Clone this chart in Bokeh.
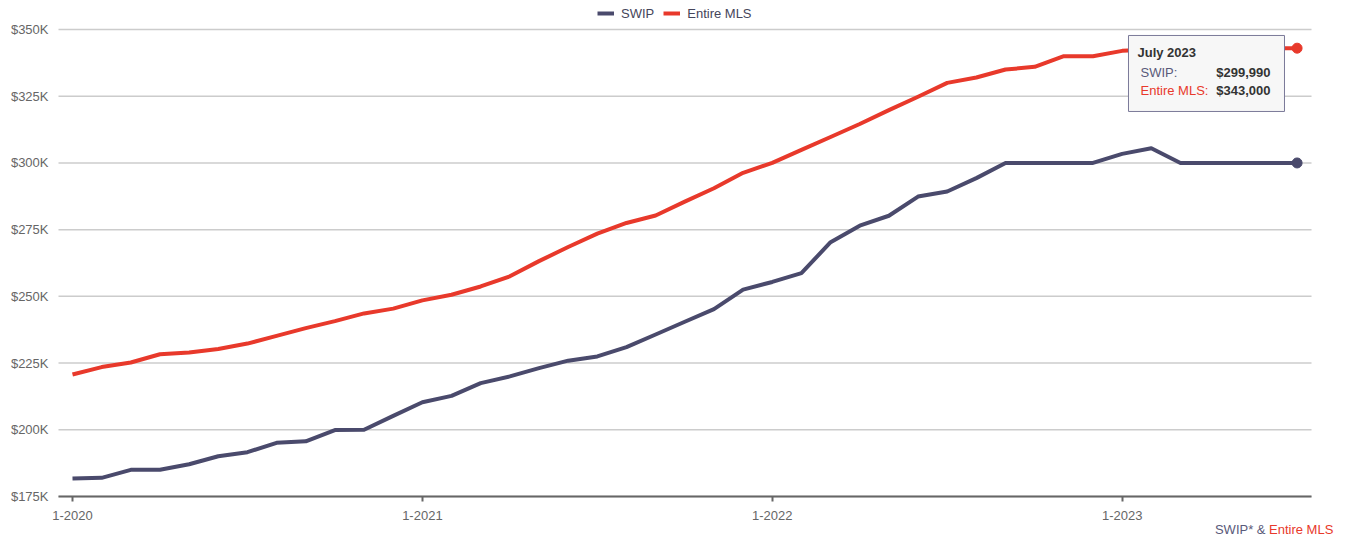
from bokeh.plotting import figure
from bokeh.models import (Range1d, FixedTicker, Legend, LegendItem, Label,
                          BoxAnnotation)
from bokeh.embed import file_html
from bokeh.resources import INLINE

# ---------------- data ----------------
months = [f"{y}-{m:02d}" for y in (2020, 2021, 2022, 2023) for m in range(1, 13)][:43]
swip = [181700, 182000, 185000, 185000, 187100, 190100, 191600, 195100, 195700,
        199900, 200000, 205200, 210300, 212700, 217500, 220000, 223100, 225900,
        227500, 231000, 235700, 240500, 245200, 252500, 255400, 258700, 270300,
        276500, 280200, 287400, 289300, 294300, 300000, 300000, 300000, 300000,
        303400, 305500, 300000, 300000, 300000, 300000, 299990]
mls = [220700, 223500, 225200, 228300, 229000, 230300, 232300, 235200, 238100,
       240700, 243600, 245400, 248500, 250600, 253700, 257500, 263200, 268500,
       273500, 277500, 280300, 285500, 290500, 296300, 300000, 304900, 309700,
       314600, 319800, 324800, 330000, 332000, 335000, 336000, 340000, 340000,
       342000, 342500, 343000, 342500, 343000, 343000, 343000]
x_tick_pos = [0, 12, 24, 36]
x_tick_labels = ["1-2020", "1-2021", "1-2022", "1-2023"]
y_ticks = [175000, 200000, 225000, 250000, 275000, 300000, 325000, 350000]
y_tick_labels = ["$175K", "$200K", "$225K", "$250K", "$275K", "$300K", "$325K", "$350K"]
series_names = ["SWIP", "Entire MLS"]
tooltip_title = "July 2023"
footnote_left = "SWIP* &"

# ---------------- styles / geometry ----------------
FONT = "Liberation Sans"
C_SWIP = "#4a4a6c"
C_MLS = "#e8392b"

x = list(range(len(months)))
W, H = 1346, 537
BAND_W, BAND_H = 1253, 467          # plotting band (px)
PAD_L, PAD_R, PAD_T, PAD_B = 58, 35, 29, 41
band_left, band_right = -0.48, 42.494
v_lo, v_hi = y_ticks[0], y_ticks[-1]
px_x = BAND_W / (band_right - band_left)
per_px = (v_hi - v_lo) / BAND_H
x0 = band_left - PAD_L / px_x
x1 = band_right + PAD_R / px_x
y0 = v_lo - PAD_B * per_px
y1 = v_hi + PAD_T * per_px

p = figure(frame_width=W, frame_height=H, output_backend="svg",
           toolbar_location=None, x_range=Range1d(x0, x1), y_range=Range1d(y0, y1),
           min_border=0)
p.outline_line_color = None
p.background_fill_color = "white"
p.border_fill_color = "white"

# grid lines across the band
n = len(y_ticks)
p.segment(x0=[band_left] * n, y0=y_ticks, x1=[band_right] * n, y1=y_ticks,
          line_color="#cccccc", line_width=1.5)
p.xgrid.grid_line_color = None
p.ygrid.grid_line_color = None

# axes
p.xaxis.fixed_location = v_lo
p.xaxis.bounds = (band_left, band_right)
p.xaxis.ticker = FixedTicker(ticks=x_tick_pos)
p.xaxis.major_label_overrides = {t: l for t, l in zip(x_tick_pos, x_tick_labels)}
p.xaxis.axis_line_color = "#666666"
p.xaxis.axis_line_width = 2
p.xaxis.major_tick_line_color = "#666666"
p.xaxis.major_tick_line_width = 2
p.xaxis.major_tick_out = 5
p.xaxis.major_tick_in = 0
p.xaxis.minor_tick_line_color = None
p.xaxis.major_label_standoff = 9
p.xaxis.major_label_text_font = FONT
p.xaxis.major_label_text_font_size = "13px"
p.xaxis.major_label_text_color = "#666666"

p.yaxis.fixed_location = band_left
p.yaxis.ticker = FixedTicker(ticks=y_ticks)
p.yaxis.major_label_overrides = {t: l for t, l in zip(y_ticks, y_tick_labels)}
p.yaxis.axis_line_color = None
p.yaxis.major_tick_line_color = None
p.yaxis.minor_tick_line_color = None
p.yaxis.major_label_standoff = 4
p.yaxis.major_label_text_font = FONT
p.yaxis.major_label_text_font_size = "13px"
p.yaxis.major_label_text_color = "#666666"

# lines
r_swip = p.line(x, swip, line_color=C_SWIP, line_width=4, line_join="round")
r_mls = p.line(x, mls, line_color=C_MLS, line_width=4, line_join="round")
p.scatter([x[-1]], [swip[-1]], size=10, color=C_SWIP)
p.scatter([x[-1]], [mls[-1]], size=10, color=C_MLS)

# legend at top centre
legend = Legend(items=[LegendItem(label=series_names[0], renderers=[r_swip]),
                       LegendItem(label=series_names[1], renderers=[r_mls])],
                orientation="horizontal", location=(597, H - 23),
                label_text_font=FONT, label_text_font_size="13px",
                label_text_color="#45455a", glyph_width=17, glyph_height=20,
                label_height=20, label_standoff=7, spacing=9, padding=0, margin=0,
                border_line_color=None, background_fill_alpha=0)
p.add_layout(legend, "center")

# tooltip anchored to last point
px_y = 1.0 / per_px
ax, ay = x[-1], mls[-1]
box = BoxAnnotation(left=ax - 168.6 / px_x, right=ax - 12.6 / px_x,
                    top=ay + 12.7 / px_y, bottom=ay - 63.3 / px_y,
                    fill_color="#f7f7f7", fill_alpha=1.0,
                    line_color="#7b7a99", line_width=1, line_alpha=1.0)
p.add_layout(box)

def lab(text, dx, dy, color, bold=False, align="left"):
    p.add_layout(Label(x=ax, y=ay, x_offset=dx, y_offset=dy, text=text,
                       text_font=FONT, text_font_size="13px", text_color=color,
                       text_font_style="bold" if bold else "normal",
                       text_align=align, text_baseline="middle"))

lab(tooltip_title, -159.6, -4, "#333333", bold=True)
lab(series_names[0] + ":", -156.6, -24, "#5a5a7a")
lab(f"${swip[-1]:,.0f}", -26.6, -24, "#333333", bold=True, align="right")
lab(series_names[1] + ":", -156.6, -42.5, C_MLS)
lab(f"${mls[-1]:,.0f}", -26.6, -42.5, "#333333", bold=True, align="right")

# footnote bottom-right
p.add_layout(Label(x=x1, y=y0, x_offset=-77.5, y_offset=8, text=series_names[1],
                   text_font=FONT, text_font_size="13px", text_color=C_MLS,
                   text_align="left", text_baseline="middle"))
p.add_layout(Label(x=x1, y=y0, x_offset=-81, y_offset=8, text=footnote_left,
                   text_font=FONT, text_font_size="13px", text_color="#5a5a7a",
                   text_align="right", text_baseline="middle"))

open("out.html", "w").write(file_html(p, INLINE))
